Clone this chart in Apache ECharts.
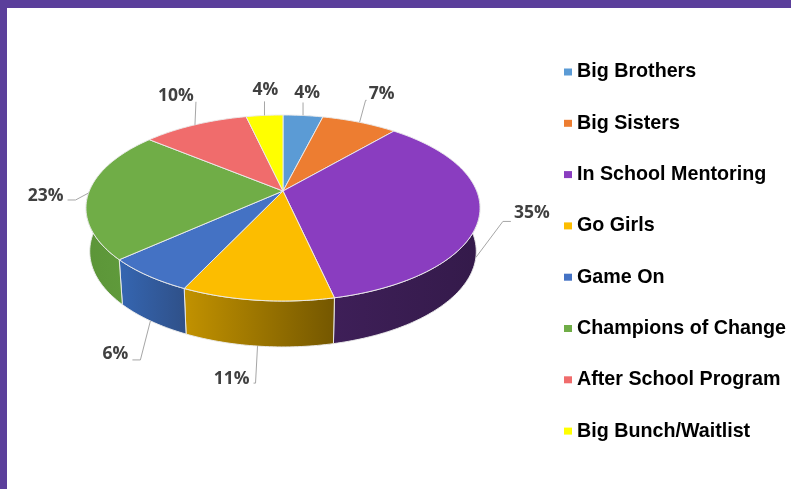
<!DOCTYPE html>
<html><head><meta charset="utf-8">
<style>html,body{margin:0;padding:0;background:#fff}#main{width:791px;height:489px}</style>
<script src="https://cdn.jsdelivr.net/npm/echarts@6/dist/echarts.min.js"></script>
</head><body><div id="main"></div>
<script>
// Data
const categories = ['Big Brothers','Big Sisters','In School Mentoring','Go Girls','Game On','Champions of Change','After School Program','Big Bunch/Waitlist'];
const shares = [3.9,7.4,35.2,10.5,6.3,22.7,10.4,3.6];
// Style
const topColors = ['#5b9bd5','#ed7d31','#8a3dc0','#fcbd00','#4472c4','#70ad47','#f06c6c','#ffff00'];
const sideColors = [null,null,['#3e1f58','#341a4a'],['#c29200','#745700'],['#3566b2','#2f5088'],['#5c9538','#5f9a3b'],null,null];
// Leader elbows and label centres, relative to each slice's anchor on the rim
const leaderOffsets = [[[0,-13]],[[6,-22],[7,-22]],[[27,-36],[35,-36]],[[-2,37],[-4,37]],[[-10,39],[-18,39]],[[-13,7],[-21,7]],[[1,-23]],[[0,-14]]];
const labelOffsets = [[4,-22],[22,-28],[56,-44],[-26,33],[-35,33],[-43,3],[-19,-29],[1,-25]];

const K = 0.1828, TOP = {cx:283,cy:191,a:193.7,b:89.9}, BOT = {cx:283,cy:234,a:190,b:92.3};
function proj(p, frac){
  const t = frac*2*Math.PI, u = Math.sin(t), v = Math.cos(t), w = 1+K*v;
  return [p.cx + p.a*u/w, p.cy - p.b*v/w];
}
function arc(p, f0, f1){
  const n = Math.max(2, Math.ceil((f1-f0)*360)), out = [];
  for(let i=0;i<=n;i++) out.push(proj(p, f0+(f1-f0)*i/n));
  return out;
}
const total = shares.reduce((a,b)=>a+b,0);
const starts = []; shares.reduce((s,v,i)=>(starts[i]=s, s+v),0);
const EDGE = 'rgba(235,235,235,0.95)';

const series = categories.map((name,i)=>({
  name, type:'custom', coordinateSystem:'none', silent:true,
  itemStyle:{color:topColors[i]},
  data:[shares[i]],
  renderItem(params, api){
    const value = api.value(0);
    const f0 = starts[i]/total, f1 = (starts[i]+value)/total, mid = (f0+f1)/2;
    const children = [];
    const s0 = Math.max(f0,0.25), s1 = Math.min(f1,0.75);
    if(sideColors[i] && s1>s0){
      children.push({type:'polygon', z2:1,
        shape:{points:arc(TOP,s0,s1).concat(arc(BOT,s0,s1).reverse())},
        style:{fill:new echarts.graphic.LinearGradient(0,0,1,0,[{offset:0,color:sideColors[i][0]},{offset:1,color:sideColors[i][1]}]),stroke:EDGE,lineWidth:1}});
    }
    children.push({type:'polygon', z2:2,
      shape:{points:[[TOP.cx,TOP.cy]].concat(arc(TOP,f0,f1))},
      style:{fill:topColors[i],stroke:EDGE,lineWidth:1}});
    const front = mid>0.25 && mid<0.72;
    const anchor = proj(front?BOT:TOP, mid);
    const pts = [anchor].concat(leaderOffsets[i].map(o=>[anchor[0]+o[0],anchor[1]+o[1]]));
    children.push({type:'polyline', z2:3, shape:{points:pts}, style:{fill:'none',stroke:'#a6a6a6',lineWidth:1}});
    children.push({type:'text', z2:4,
      x:anchor[0]+labelOffsets[i][0], y:anchor[1]+labelOffsets[i][1],
      style:{text:Math.round(value)+'%',fill:'#404040',font:'bold 17.5px "Open Sans"',align:'center',verticalAlign:'middle'}});
    return {type:'group',children};
  }
}));

const chart = echarts.init(document.getElementById('main'),null,{renderer:'canvas'});
chart.setOption({
  animation:false,
  backgroundColor:'#fff',
  graphic:[
    {type:'rect',shape:{x:0,y:0,width:791,height:8},style:{fill:'#5b3f9b'},silent:true},
    {type:'rect',shape:{x:0,y:0,width:7,height:489},style:{fill:'#5b3f9b'},silent:true}
  ],
  legend:{
    orient:'vertical',left:559,top:57,padding:5,selectedMode:false,
    icon:'rect',itemWidth:8,itemHeight:7,itemGap:31.3,
    data:categories,
    textStyle:{color:'#000',fontFamily:'Liberation Sans',fontWeight:'bold',fontSize:19.7,lineHeight:20}
  },
  series
});
</script></body></html>
